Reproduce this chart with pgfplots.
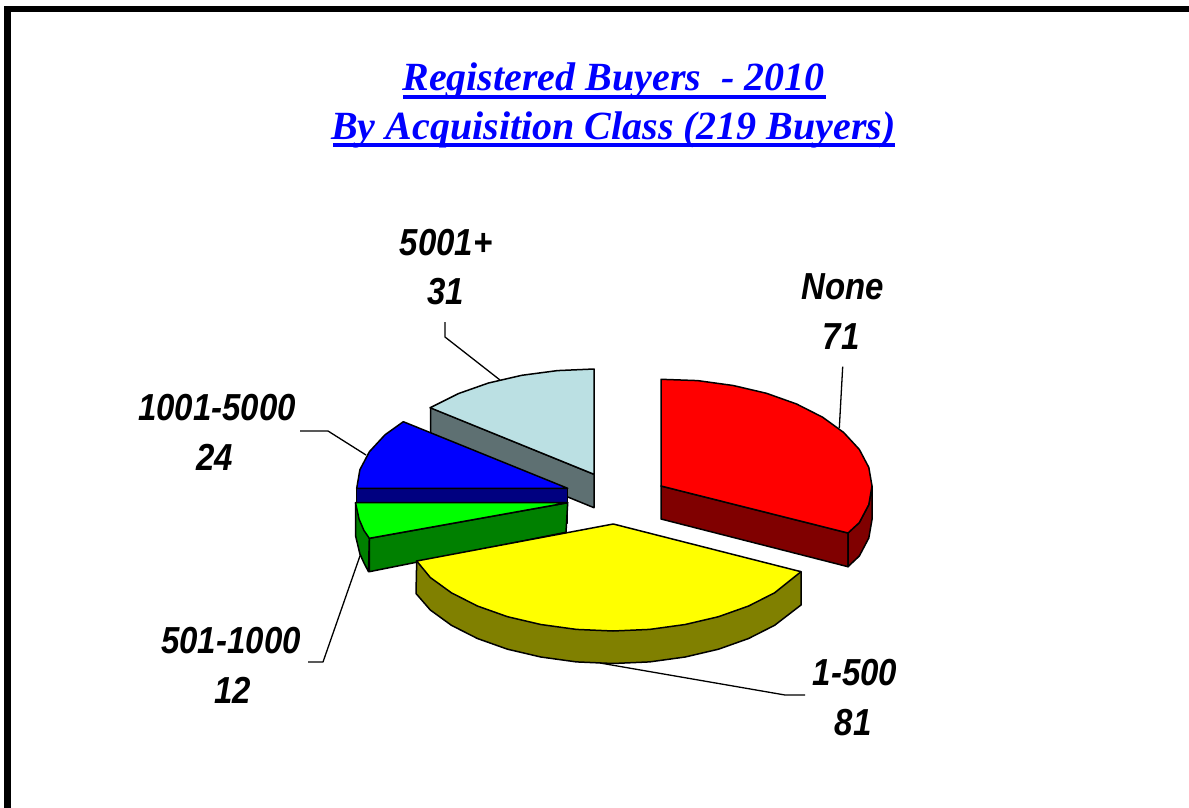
\documentclass[border=0pt]{standalone}
\usepackage{pgfplots}
\usepackage{fontspec}
\setmainfont{Liberation Sans}
\newfontfamily\titlefont{Liberation Serif}
\pgfplotsset{compat=1.18}
\definecolor{lblue}{HTML}{BBE0E3}
\definecolor{lblues}{HTML}{5E7072}
\definecolor{titleblue}{HTML}{0000FF}
\definecolor{navyside}{HTML}{000080}
\definecolor{greenside}{HTML}{008000}
\definecolor{redside}{HTML}{800000}
\definecolor{yellowside}{HTML}{808000}
\definecolor{pieyellow}{HTML}{FFFF00}
\definecolor{piered}{HTML}{FF0000}
\definecolor{piegreen}{HTML}{00FF00}
\definecolor{pieblue}{HTML}{0000FF}
\tikzset{
  lbl/.style={font=\fontsize{33}{33}\selectfont\bfseries\itshape, inner sep=0pt, anchor=center, yscale=1.14},
  ttl/.style={font=\fontsize{40}{40}\titlefont\bfseries\itshape, text=titleblue, inner sep=0pt, anchor=base},
}
\begin{document}
\begin{tikzpicture}
\useasboundingbox (0,0) rectangle (1189pt,808pt);
\begin{axis}[
  at={(0,0)}, anchor=south west,
  scale only axis, width=1189pt, height=808pt,
  xmin=0, xmax=1189, ymin=0, ymax=808, y dir=reverse,
  hide axis,
  every axis plot/.append style={line join=round, line width=1.5pt, draw=black},
]
% frame
\addplot[line width=6.5pt, line join=miter] coordinates {(7.3,808) (7.3,9) (1189,9)};
% title underlines
\addplot[draw=titleblue, line width=4pt] coordinates {(403,97) (826,97)};
\addplot[draw=titleblue, line width=4pt] coordinates {(333,145) (895,145)};
% leaders
\addplot[line width=1.3pt] coordinates {(842.7,366.7) (839.3,428)};
\addplot[line width=1.3pt] coordinates {(600,663) (785,695) (805,695)};
\addplot[line width=1.3pt] coordinates {(361,553) (323,662) (308,662)};
\addplot[line width=1.3pt] coordinates {(366,455) (328,431) (300,431)};
\addplot[line width=1.3pt] coordinates {(500,380) (445,337) (445,322)};
% 5001+
\addplot[fill=lblues] coordinates {(430.7,407.7) (594,474.3) (594,507.7) (430.7,441)} --cycle;
\addplot[fill=lblue] coordinates {(594,369) (557.4,370.6) (521.8,375.3) (488.5,383) (458.4,393.6) (432.4,406.6) (430,407.7) (594,474.3)} --cycle;
% 1001-5000
\addplot[fill=navyside] coordinates {(356.7,488.3) (567.7,488.3) (567.7,523) (356.7,523)} --cycle;
\addplot[fill=pieblue] coordinates {(403.3,421.7) (385,434.8) (369.4,451.7) (359.9,469.7) (356.7,488.3) (567.7,488.3)} --cycle;
% 501-1000
\addplot[fill=greenside] coordinates {(369.3,538.3) (567.7,502.7) (566,532.3) (369.3,571.7)} --cycle;
\addplot[fill=greenside] coordinates {(355.5,502.7) (355.5,535.5) (359.9,554) (364,563) (368.5,571.7) (369.3,538.3)} --cycle;
\addplot[fill=piegreen] coordinates {(355.5,502.7) (567.7,502.7) (369.3,538.3) (363.9,530.4) (359,519)} --cycle;
% None
\addplot[fill=redside] coordinates {(661,486) (848,533) (848,566.7) (661,519)} --cycle;
\addplot[fill=redside] coordinates {(848,533) (859.3,522.6) (868.8,504.6) (872,486) (872,519.5) (868.8,538) (859.3,556) (848,566.7)} --cycle;
\addplot[fill=piered] coordinates {(661,379.3) (697.6,380.6) (733.2,385.5) (766.5,393.3) (796.6,404) (822.6,417.2) (843.7,432.5) (859.3,449.4) (868.8,467.4) (872,486) (868.8,504.6) (859.3,522.6) (848,533) (661,486)} --cycle;
% 1-500
\addplot[fill=yellowside] coordinates {(416.7,561) (416,593.5) (430.3,610) (451.4,625.3) (477.4,638.5) (507.5,649.2) (540.8,657) (576.4,661.9) (613,663.5) (649.6,661.9) (685.2,657) (718.5,649.2) (748.6,638.5) (774.6,625.3) (801,605) (801,571.7)} --cycle;
\addplot[fill=pieyellow] coordinates {(613.3,524) (801,571.7) (774.6,592.8) (748.6,606) (718.5,616.7) (685.2,624.5) (649.6,629.4) (613,631) (576.4,629.4) (540.8,624.5) (507.5,616.7) (477.4,606) (451.4,592.8) (430.3,577.5) (416.7,561)} --cycle;
% title
\node[ttl] at (axis cs:613.5,90) {Registered Buyers~ - 2010};
\node[ttl] at (axis cs:613.5,139.5) {By Acquisition Class (219 Buyers)};
% labels
\node[lbl] at (axis cs:842.5,286.7) {None};
\node[lbl] at (axis cs:841,336.5) {71};
\node[lbl] at (axis cs:446,243) {5001+};
\node[lbl] at (axis cs:446,292) {31};
\node[lbl] at (axis cs:217,408) {1001-5000};
\node[lbl] at (axis cs:215,457) {24};
\node[lbl] at (axis cs:231,641) {501-1000};
\node[lbl] at (axis cs:233,690) {12};
\node[lbl] at (axis cs:855,673) {1-500};
\node[lbl] at (axis cs:853,723) {81};
\end{axis}
\end{tikzpicture}
\end{document}
